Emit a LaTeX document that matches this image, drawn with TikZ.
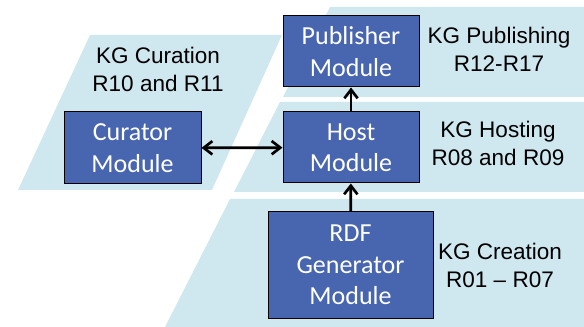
\documentclass[tikz,border=0pt]{standalone}
\usepackage{fontspec}
\setmainfont{Liberation Sans}
\newfontfamily\boxfont{Carlito}
\usetikzlibrary{arrows.meta}

\tikzset{every picture/.style={line width=0.75pt}}
\definecolor{bandblue}{RGB}{207,231,238}
\definecolor{modblue}{RGB}{72,101,176}
\tikzset{
  module/.style={draw=black, line width=0.75pt, fill=modblue, text=white,
    font=\boxfont\fontsize{19.5}{23.5}\selectfont, align=center, inner sep=0pt},
  phase/.style={font=\fontsize{16.9}{21}\selectfont, align=center, inner sep=0.75pt},
  barb/.tip={Straight Barb[length=6.5pt,width=10pt,line width=2pt]},
  link/.style={line width=2pt, -barb},
  dlink/.style={line width=2pt, barb-barb}
}

\begin{document}
\begin{tikzpicture}[x=0.75pt,y=0.75pt,yscale=-1,xscale=1]
        \useasboundingbox (0,0) rectangle (584,327);

        %Shape: Parallelogram [id:curation]
        \fill [bandblue] (90,35) -- (282,35) -- (212,190) -- (18,190) -- cycle ;
        %Shape: Parallelogram [id:publishing]
        \fill [bandblue] (330,7) -- (584,7) -- (584,97) -- (283,97) -- cycle ;
        %Shape: Parallelogram [id:hosting]
        \fill [bandblue] (280,102) -- (584,102) -- (584,192) -- (234,192) -- cycle ;
        %Shape: Parallelogram [id:creation]
        \fill [bandblue] (230,199) -- (584,199) -- (584,327) -- (165,327) -- cycle ;

        % Module Nodes
        \node [module, minimum width=102pt, minimum height=53.25pt] (publisher) at (351,51.5) {Publisher\\Module};
        \node [module, minimum width=102pt, minimum height=53.25pt] (host) at (351,147.5) {Host\\Module};
        \node [module, minimum width=102.75pt, minimum height=54pt] (curator) at (132.5,148) {Curator\\Module};
        \node [module, minimum width=123.75pt, minimum height=79.5pt] (rdfgen) at (350.5,265) {RDF\\Generator\\Module};

        % Connectors
        \draw [link] (host) -- (publisher) ;
        \draw [link] (rdfgen) -- (host) ;
        \draw [dlink] (curator) -- (host) ;

        % Text Node
        \node [phase] (curlabel) at (158,69) {KG Curation\\R10 and R11};
        % Text Node
        \node [phase] (publabel) at (499,49) {KG Publishing\\R12-R17};
        % Text Node
        \node [phase] (hostlabel) at (498,143.5) {KG Hosting\\R08 and R09};
        % Text Node
        \node [phase] (crelabel) at (500,265.5) {KG Creation\\R01 -- R07};

\end{tikzpicture}
\end{document}
